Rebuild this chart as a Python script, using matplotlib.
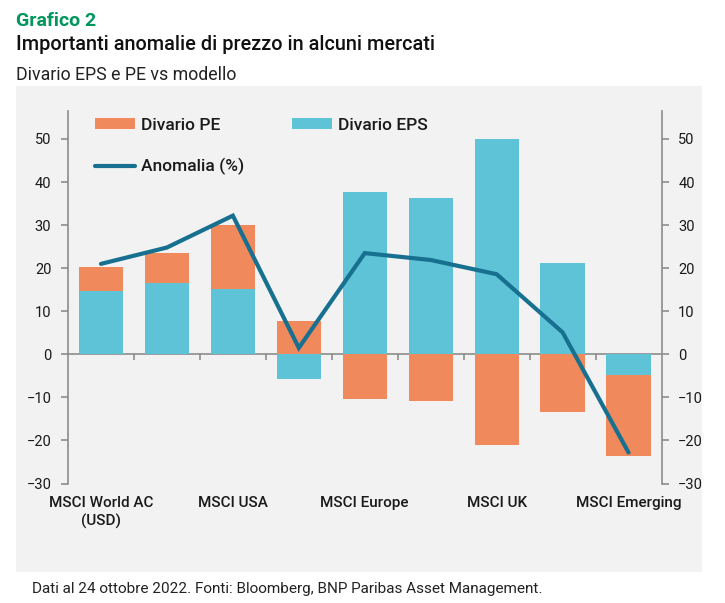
import numpy as np
import matplotlib
matplotlib.use("Agg")
import matplotlib.pyplot as plt
from matplotlib.patches import Rectangle

# ---- data ----
categories = ["MSCI World AC\n(USD)", "", "MSCI USA", "", "MSCI Europe", "",
              "MSCI UK", "", "MSCI Emerging"]
divario_eps = [14.6, 16.5, 15.2, -5.7, 37.7, 36.3, 50.1, 21.1, -4.9]
divario_pe = [5.7, 7.0, 14.8, 7.7, -10.3, -10.8, -21.0, -13.4, -18.8]
anomalia = [21.0, 24.8, 32.2, 1.5, 23.5, 21.9, 18.6, 5.1, -22.8]
y_ticks = [-30, -20, -10, 0, 10, 20, 30, 40, 50]

# ---- style ----
plt.rcParams['font.family'] = ['Roboto', 'DejaVu Sans']
C_PE = "#F0895C"
C_EPS = "#5FC3D8"
C_LINE = "#17708F"
C_GRID = "#8C8C8C"
C_PANEL = "#F2F2F2"
C_GREEN = "#00965E"

fig = plt.figure(figsize=(7.25, 6.03), dpi=100)
fig.patch.set_facecolor("white")

# grey panel
fig.add_artist(Rectangle((16 / 725, 1 - 572 / 603), (702 - 16) / 725, (572 - 86) / 603,
                         transform=fig.transFigure, facecolor=C_PANEL,
                         edgecolor="none", zorder=0))

ax = fig.add_axes([68 / 725, 1 - 483.5 / 603, (661.5 - 68) / 725, (483.5 - 111) / 603])
ax.set_facecolor("none")

x = np.arange(len(categories))
eps = np.array(divario_eps)
pe = np.array(divario_pe)
pe_bottom = np.where(np.sign(pe) == np.sign(eps), eps, 0)

w = 0.67
ax.bar(x, eps, width=w, color=C_EPS, label="Divario EPS", zorder=2)
ax.bar(x, pe, width=w, bottom=pe_bottom, color=C_PE, label="Divario PE", zorder=2)
ax.plot(x, anomalia, color=C_LINE, lw=3.0, label="Anomalia (%)", zorder=4,
        solid_capstyle="round", solid_joinstyle="miter")

ax.set_xlim(-0.5, len(categories) - 0.5)
ax.set_ylim(-30, 56.5)
ax.set_yticks(y_ticks)

for s in ["top", "bottom"]:
    ax.spines[s].set_visible(False)
for s in ["left", "right"]:
    ax.spines[s].set_color(C_GRID)
    ax.spines[s].set_linewidth(1.2)

ax.tick_params(axis="y", which="both", left=True, right=True, labelleft=True,
               labelright=True, direction="out", length=5, width=1.2,
               color=C_GRID, labelsize=10.5, labelcolor="#1a1a1a", pad=7)

ax.set_xticks(x)
ax.set_xticklabels(categories, fontsize=11, fontweight="medium", color="#1a1a1a",
                   linespacing=1.3)
ax.tick_params(axis="x", length=0, pad=9)

# zero axis line with category separators
sec = ax.secondary_xaxis(0, transform=ax.transData)
sec.set_xticks(x[:-1] + 0.5)
sec.set_xticklabels([])
sec.spines["bottom"].set_color(C_GRID)
sec.spines["bottom"].set_linewidth(1.2)
sec.tick_params(axis="x", length=4, width=1.2, color=C_GRID, direction="out")

# legend
h, l = ax.get_legend_handles_labels()
hd = dict(zip(l, h))
order = ["Divario PE", "Anomalia (%)", "Divario EPS"]
leg = fig.legend([hd[k] for k in order], order, ncol=2, loc="upper left",
                 bbox_to_anchor=(95 / 725, 1 - 118 / 603), bbox_transform=fig.transFigure,
                 frameon=False, fontsize=12.5, handlelength=2.3, handleheight=0.6,
                 handletextpad=0.35, columnspacing=2.75, labelspacing=1.45,
                 borderpad=0, borderaxespad=0)
for t in leg.get_texts():
    t.set_color("#1a1a1a")
    t.set_fontweight("medium")

# titles
fig.text(16 / 725, 1 - 25.5 / 603, "Grafico 2", color=C_GREEN, fontsize=14,
         fontweight="bold", va="baseline", ha="left")
fig.text(16 / 725, 1 - 50 / 603, "Importanti anomalie di prezzo in alcuni mercati",
         color="#111111", fontsize=14.3, fontweight="medium", va="baseline", ha="left")
fig.text(16 / 725, 1 - 79.5 / 603, "Divario EPS e PE vs modello", color="#222222",
         fontsize=12.8, va="baseline", ha="left")
fig.text(32 / 725, 1 - 593 / 603,
         "Dati al 24 ottobre 2022. Fonti: Bloomberg, BNP Paribas Asset Management.",
         color="#222222", fontsize=11, va="baseline", ha="left")

fig.savefig("out.png", dpi=100, facecolor="white")
